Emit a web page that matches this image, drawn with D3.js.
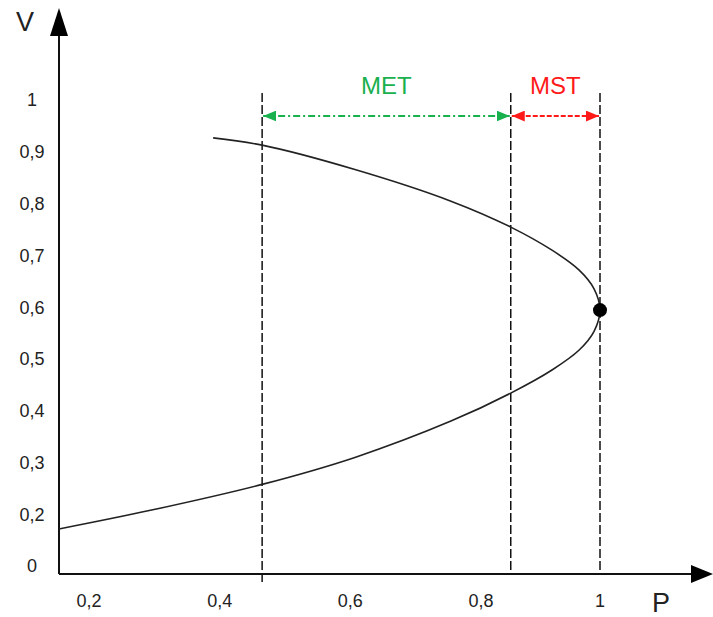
<!DOCTYPE html>
<html><head><meta charset="utf-8">
<script src="https://cdn.jsdelivr.net/npm/d3@7/dist/d3.min.js"></script>
<style>body{margin:0;background:#fff}svg{display:block}text{font-family:"Liberation Sans",Arial,sans-serif}</style>
</head><body><svg id="c" width="713" height="617"></svg>
<script>
// P-V nose curve (P, V) traced from upper branch around the nose to the lower branch
const curveP = [0.390,0.465,0.607,0.754,0.850,0.920,0.965,0.990,1.000,0.990,0.965,0.920,0.850,0.754,0.607,0.465,0.294,0.154];
const curveV = [0.927,0.913,0.866,0.805,0.755,0.710,0.672,0.636,0.595,0.554,0.518,0.480,0.435,0.381,0.311,0.259,0.209,0.173];
const noseP = 1.0, noseV = 0.595;
const xTicks = [0.2,0.4,0.6,0.8,1];
const xTickLabels = ["0,2","0,4","0,6","0,8","1"];
const yTicks = [1,0.9,0.8,0.7,0.6,0.5,0.4,0.3,0.2,0];
const yTickLabels = ["1","0,9","0,8","0,7","0,6","0,5","0,4","0,3","0,2","0"];
const markerP = [0.465,0.85,1.0];
const rangeNames = ["MET","MST"];
const rangeFrom = [0.465,0.85];
const rangeTo = [0.85,1.0];
const rangeColors = ["#19b04e","#ff1a1a"];

const svg = d3.select("#c");
const x = d3.scaleLinear().domain([0.2,0.8,1]).range([89,481,600]);
const y = d3.scaleLinear().domain([0.2,1]).range([515,100]);
const x0 = 59, yAxisY = 574;

const defs = svg.append("defs");
rangeColors.forEach((c,i)=>{
  defs.append("marker").attr("id","ah"+i).attr("viewBox","0 0 12 10").attr("refX",12).attr("refY",5)
    .attr("markerWidth",13).attr("markerHeight",11).attr("markerUnits","userSpaceOnUse").attr("orient","auto-start-reverse")
    .append("path").attr("d","M0,0L12,5L0,10Z").attr("fill",c);
});

// dashed verticals
svg.selectAll("line.v").data(markerP).enter().append("line")
  .attr("x1",d=>x(d)).attr("x2",d=>x(d)).attr("y1",93).attr("y2",(d,i)=>i===0?584:yAxisY)
  .attr("stroke","#111").attr("stroke-width",1.5).attr("stroke-dasharray","9,3");

// axes
svg.append("line").attr("x1",x0).attr("x2",x0).attr("y1",yAxisY).attr("y2",30).attr("stroke","#111").attr("stroke-width",2);
svg.append("path").attr("d",`M${x0},8L${x0-9},36L${x0+9},36Z`).attr("fill","#000");
svg.append("line").attr("x1",x0).attr("x2",695).attr("y1",yAxisY).attr("y2",yAxisY).attr("stroke","#111").attr("stroke-width",2);
svg.append("path").attr("d",`M713,${yAxisY}L691,${yAxisY-9}L691,${yAxisY+9}Z`).attr("fill","#000");

// tick labels
svg.selectAll("text.xt").data(xTicks).enter().append("text")
  .attr("x",d=>x(d)).attr("y",601).attr("text-anchor","middle").attr("dominant-baseline","central")
  .attr("font-size",18).attr("fill","#222").text((d,i)=>xTickLabels[i]);
svg.selectAll("text.yt").data(yTicks).enter().append("text")
  .attr("x",32).attr("y",d=>Math.min(y(d),yAxisY-8)).attr("text-anchor","middle").attr("dominant-baseline","central")
  .attr("font-size",18).attr("fill","#222").text((d,i)=>yTickLabels[i]);
svg.append("text").attr("x",25).attr("y",22).attr("text-anchor","middle").attr("dominant-baseline","central")
  .attr("font-size",27).attr("fill","#222").text("V");
svg.append("text").attr("x",661).attr("y",603).attr("text-anchor","middle").attr("dominant-baseline","central")
  .attr("font-size",27).attr("fill","#222").text("P");

// curve
const pts = curveP.map((p,i)=>[p,curveV[i]]);
svg.append("path").datum(pts)
  .attr("d",d3.line().x(d=>x(d[0])).y(d=>y(d[1])).curve(d3.curveCatmullRom.alpha(0.5)))
  .attr("fill","none").attr("stroke","#222").attr("stroke-width",1.6);
svg.append("circle").attr("cx",x(noseP)).attr("cy",y(noseV)).attr("r",7).attr("fill","#000");

// range arrows
rangeNames.forEach((n,i)=>{
  svg.append("line").attr("x1",x(rangeFrom[i])+1).attr("x2",x(rangeTo[i])-1).attr("y1",116).attr("y2",116)
    .attr("stroke",rangeColors[i]).attr("stroke-width",1.8).attr("stroke-dasharray",i===0?"7,3,2,3":"5,2")
    .attr("marker-start",`url(#ah${i})`).attr("marker-end",`url(#ah${i})`);
  svg.append("text").attr("x",(x(rangeFrom[i])+x(rangeTo[i]))/2).attr("y",85).attr("text-anchor","middle")
    .attr("dominant-baseline","central").attr("font-size",24).attr("fill",rangeColors[i]).text(n);
});
</script></body></html>
